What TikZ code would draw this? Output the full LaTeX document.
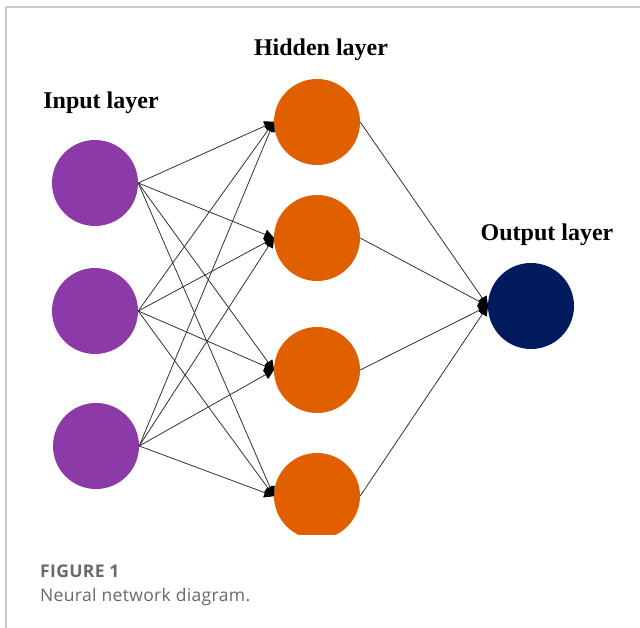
\documentclass[tikz,border=0pt]{standalone}
\usepackage{fontspec}
\setmainfont{Liberation Serif}
\newfontfamily\capfont[LetterSpace=2]{Open Sans}
\newfontfamily\capboldfont[LetterSpace=2]{Open Sans Bold}
\usetikzlibrary{arrows.meta}
\definecolor{inpurple}{RGB}{140,58,168}
\definecolor{hidorange}{RGB}{224,96,0}
\definecolor{outnavy}{RGB}{0,26,94}
\definecolor{framegray}{RGB}{204,204,204}
\definecolor{capgray}{RGB}{105,105,105}
\tikzset{
  neuron/.style={circle, minimum size=86pt, inner sep=0pt, draw=none},
  inneuron/.style={neuron, fill=inpurple},
  hidneuron/.style={neuron, fill=hidorange},
  outneuron/.style={neuron, fill=outnavy},
  edge/.style={draw=black!80, line width=0.8pt, -{Triangle[length=10pt,width=10pt,round,color=black,fill=black]}},
  layerlabel/.style={font=\bfseries\fontsize{24}{27}\selectfont, inner sep=0pt},
  captext/.style={font=\capfont\fontsize{17.5}{20}\selectfont, text=capgray, inner sep=0pt, anchor=base west}
}
\begin{document}
\begin{tikzpicture}[x=1pt,y=-1pt]
\useasboundingbox (0,0) rectangle (640,628);
\fill[white] (0,0) rectangle (640,628);
\draw[framegray, line width=1.2pt] (6,628) -- (6,7) -- (640,7);
\begin{scope}
\clip (7,8) rectangle (640,534);
\node[inneuron] (i1) at (95,183) {};
\node[inneuron] (i2) at (95,311) {};
\node[inneuron] (i3) at (96,446) {};
\node[hidneuron] (h1) at (317,122) {};
\node[hidneuron] (h2) at (317,238) {};
\node[hidneuron] (h3) at (317,370) {};
\node[hidneuron] (h4) at (317,496) {};
\node[outneuron] (o1) at (531,306) {};
\foreach \i in {i1,i2,i3}{
  \foreach \h in {h1,h2,h3,h4}{
    \draw[edge] (\i.east) -- (\h.west);
  }
}
\foreach \h in {h1,h2,h3,h4}{
  \draw[edge] (\h.east) -- (o1.west);
}
\end{scope}
\node[layerlabel] (lin) at (101,103) {Input layer};
\node[layerlabel] (lhid) at (321,50) {Hidden layer};
\node[layerlabel] (lout) at (547,235) {Output layer};
\node[captext, font=\capboldfont\fontsize{17.5}{20}\selectfont] (cap1) at (40,577) {FIGURE 1};
\node[captext] (cap2) at (40,601) {Neural network diagram.};
\end{tikzpicture}
\end{document}
